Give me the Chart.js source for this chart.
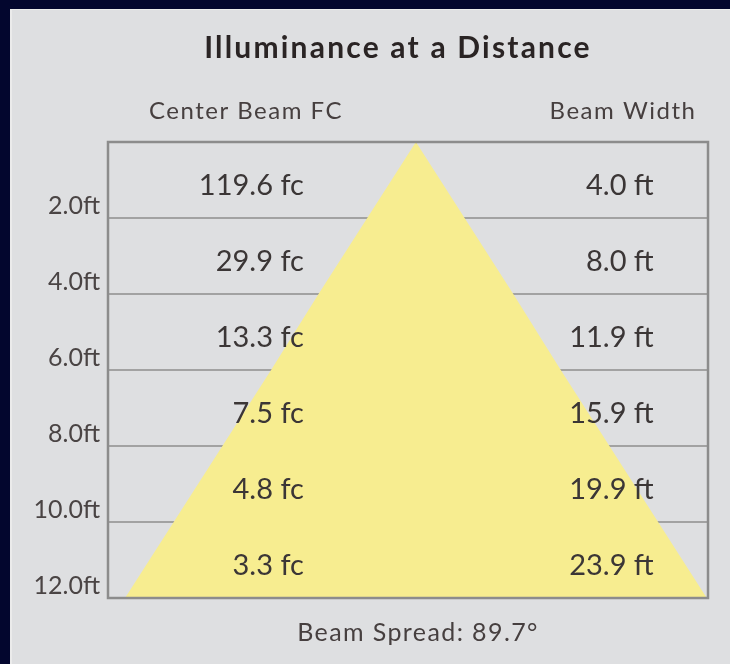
<!DOCTYPE html>
<html>
<head>
<meta charset="utf-8">
<script src="https://cdn.jsdelivr.net/npm/chart.js@4/dist/chart.umd.min.js"></script>
<style>
    html, body { margin: 0; padding: 0; background: #03062e; width: 730px; height: 664px; overflow: hidden; }
    #panel { position: absolute; left: 10px; top: 9px; width: 720px; height: 655px; background: #dedfe1;
             border-left: 2px solid #ebebeb; border-top: 1px solid #ebebeb; box-sizing: border-box; }
    #wrap { position: absolute; left: 0; top: 0; width: 730px; height: 664px; }
</style>
</head>
<body>
<div id="panel"></div>
<div id="wrap"><canvas id="chart"></canvas></div>
<script>
const distances = [2, 4, 6, 8, 10, 12];
const distLabels = ['2.0ft', '4.0ft', '6.0ft', '8.0ft', '10.0ft', '12.0ft'];
const centerBeamFc = [119.6, 29.9, 13.3, 7.5, 4.8, 3.3];
const beamWidthFt = [4.0, 8.0, 11.9, 15.9, 19.9, 23.9];
const beamSpread = 89.7;

const TEXT = '#3b3636';
const FONT = 'Lato, "Noto Sans", sans-serif';

// beam cone: left edge bottom-up, apex, right edge top-down
const conePoints = [];
for (let i = distances.length - 1; i >= 0; i--) conePoints.push({ x: -beamWidthFt[i] / 2, y: distances[i] });
conePoints.push({ x: 0, y: 0 });
for (let i = 0; i < distances.length; i++) conePoints.push({ x: beamWidthFt[i] / 2, y: distances[i] });

const tablePlugin = {
    id: 'tablePlugin',
    afterDraw(chart) {
        const { ctx, chartArea, scales: { x, y } } = chart;
        ctx.save();

        // frame
        ctx.strokeStyle = '#8c8c8c';
        ctx.lineWidth = 2.5;
        ctx.strokeRect(chartArea.left, chartArea.top, chartArea.right - chartArea.left, chartArea.bottom - chartArea.top);

        // title + column headers
        ctx.fillStyle = '#2a2424';
        ctx.textAlign = 'center';
        ctx.textBaseline = 'middle';
        ctx.font = 'bold 30px ' + FONT;
        ctx.letterSpacing = '2.2px';
        ctx.fillText('Illuminance at a Distance', 398, 48);

        ctx.fillStyle = '#463f3f';
        ctx.font = '24px ' + FONT;
        ctx.letterSpacing = '1.5px';
        ctx.fillText('Center Beam FC', 246, 111);
        ctx.fillText('Beam Width', 623, 111);

        // cell values
        ctx.fillStyle = TEXT;
        ctx.font = '29px ' + FONT;
        ctx.letterSpacing = '0px';
        ctx.textAlign = 'right';
        const leftX = x.getPixelForValue(-4.6);
        const rightX = x.getPixelForValue(9.77);
        distances.forEach((d, i) => {
            const yMid = y.getPixelForValue(d - 1) + 6;
            ctx.fillText(centerBeamFc[i].toFixed(1) + ' fc', leftX, yMid);
            ctx.fillText(beamWidthFt[i].toFixed(1) + ' ft', rightX, yMid);
        });

        // footer
        ctx.fillStyle = '#463f3f';
        ctx.textAlign = 'center';
        ctx.font = '25px ' + FONT;
        ctx.letterSpacing = '1.4px';
        ctx.fillText('Beam Spread: ' + beamSpread.toFixed(1) + '°', 418, 633);

        ctx.restore();
    }
};

new Chart(document.getElementById('chart'), {
    type: 'line',
    data: {
        datasets: [{
            data: conePoints,
            borderWidth: 0,
            pointRadius: 0,
            backgroundColor: '#f7ed90',
            fill: { value: 12 },
            tension: 0
        }]
    },
    options: {
        responsive: true,
        maintainAspectRatio: false,
        animation: false,
        layout: { padding: { left: 10, right: 22, top: 142, bottom: 66 } },
        plugins: {
            legend: { display: false },
            tooltip: { enabled: false }
        },
        scales: {
            x: {
                type: 'linear',
                min: -12.65,
                max: 12.0,
                z: 1,
                afterBuildTicks: s => { s.ticks = [{ value: 0 }]; },
                ticks: { display: false },
                grid: { color: '#9a9a9a', lineWidth: 2, drawTicks: false },
                border: { display: false },
                afterFit: s => { s.height = 0; }
            },
            y: {
                type: 'linear',
                min: 0,
                max: 12,
                reverse: true,
                z: 1,
                ticks: {
                    stepSize: 2,
                    padding: 8,
                    labelOffset: -12,
                    color: '#4a4444',
                    font: { family: FONT, size: 25 },
                    callback: v => {
                        const i = distances.indexOf(v);
                        return i < 0 ? '' : distLabels[i];
                    }
                },
                grid: { color: '#a2a2a2', lineWidth: 2, drawTicks: false },
                border: { display: false },
                afterFit: s => { s.width = 98; }
            }
        }
    },
    plugins: [tablePlugin]
});
</script>
</body>
</html>
